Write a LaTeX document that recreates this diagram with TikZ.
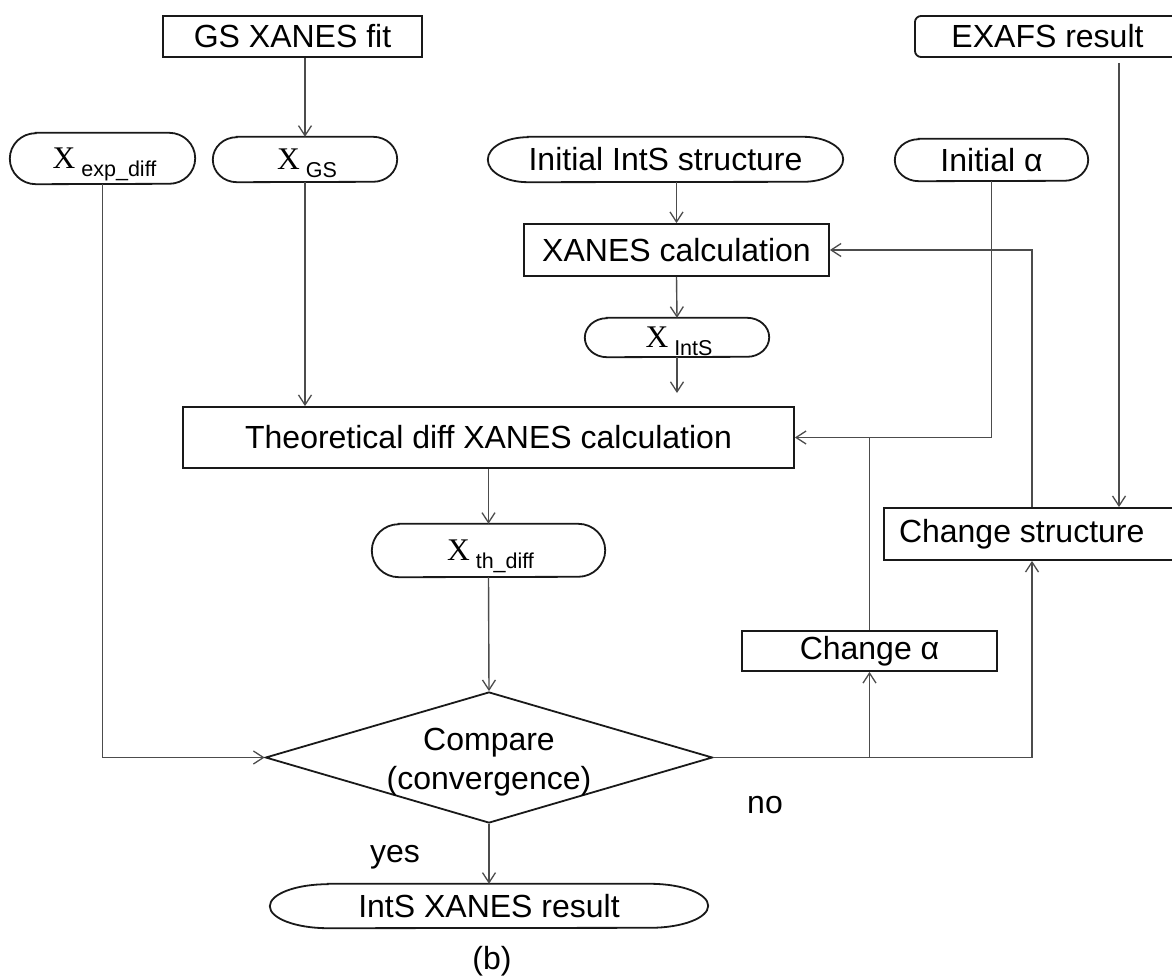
\documentclass[tikz,border=0pt]{standalone}
\usepackage{fontspec}
\setmainfont{Liberation Sans}
\newfontfamily\xserif{Liberation Serif}
\usetikzlibrary{arrows.meta,calc,shapes.geometric}

% outline of a terminal: straight top and bottom, elliptic caps
\newcommand\termoutline[3]{%
  \draw[outline] ([xshift=#2pt]#1.north west) -- ([xshift=-#2pt]#1.north east)
    arc[start angle=90,end angle=-90,x radius=#2pt,y radius=#3pt]
    -- ([xshift=#2pt]#1.south west)
    arc[start angle=270,end angle=90,x radius=#2pt,y radius=#3pt] -- cycle;}

% serif X with a sans subscript; the fixed box height/depth sets where the baseline sits
\newcommand\Xsub[1]{\raisebox{0pt}[20pt][0pt]{\hspace{4pt}{\xserif\fontsize{31.5}{32}\selectfont X}\kern6pt\raisebox{-8pt}{\fontsize{21.5}{23}\selectfont #1}}}

\begin{document}
\begin{tikzpicture}[x=1pt,y=-1pt,
  every node/.style={font=\fontsize{32}{39}\selectfont, text=black},
  box/.style={draw=black!90, line width=1.8pt, rectangle, inner sep=0pt},
  term/.style={rectangle, inner sep=0pt},
  outline/.style={draw=black!90, line width=1.8pt},
  conn/.style={draw=black!70, line width=1.4pt},
  arr/.style={conn, -{Straight Barb[length=10pt,width=13pt,line width=1.3pt]}},
  lbl/.style={inner sep=0pt}
]
\useasboundingbox (0,0) rectangle (1172,976);

% process boxes
\node[box, minimum width=259pt, minimum height=41pt] (gsfit) at (292.5,36.5) {GS XANES fit};
\node[box, rounded corners=6pt, minimum width=265pt, minimum height=41pt] (exafs) at (1047.5,36.5) {EXAFS result};
\node[box, minimum width=305pt, minimum height=52pt] (xcalc) at (676.5,250) {XANES calculation};
\node[box, minimum width=611pt, minimum height=61pt] (theo) at (488.5,437.5) {Theoretical diff XANES calculation};
\node[box, minimum width=296pt, minimum height=52pt] (chstr) at (1032,534) {\makebox[296pt][l]{\hspace{15pt}Change structure}};
\node[box, minimum width=255pt, minimum height=40pt] (cha) at (869.5,651) {Change α};

% terminals
\node[term, minimum width=185pt, minimum height=51pt] (xexp) at (102.5,158.5) {\Xsub{exp\_diff}};
\termoutline{xexp}{26}{25.5}
\node[term, minimum width=184pt, minimum height=45pt] (xgs) at (305,159.5) {\Xsub{GS}};
\termoutline{xgs}{24}{22.5}
\node[term, minimum width=355pt, minimum height=45pt] (inits) at (665.5,159.5) {Initial IntS structure};
\termoutline{inits}{40}{22.5}
\node[term, minimum width=193pt, minimum height=42pt] (inita) at (991.5,160) {Initial α};
\termoutline{inita}{24}{21}
\node[term, minimum width=184pt, minimum height=39pt] (xints) at (677,337.5) {\Xsub{IntS}};
\termoutline{xints}{22}{19.5}
\node[term, minimum width=233pt, minimum height=53pt] (xth) at (488.5,550.5) {\Xsub{th\_diff}};
\termoutline{xth}{27}{26.5}
\node[term, minimum width=438pt, minimum height=44pt] (result) at (489,906) {IntS XANES result};
\termoutline{result}{58}{22}

% decision
\node[diamond, draw=black!90, line width=1.8pt, inner sep=0pt,
      minimum width=447pt, minimum height=131pt] (cmp) at (489,757.5) {};
\node[lbl, align=center] (cmptext) at (489,762) {Compare\\(convergence)};

% branch labels and caption
\node[lbl] (yes) at (395,857) {yes};
\node[lbl] (no) at (765,805) {no};
\node[lbl] (cap) at (492,961) {(b)};

% free end of the short arrow under X_IntS
\coordinate (gapend) at (677,393);
\coordinate (exline) at (1119,0);

% connectors
\draw[arr] (gsfit.south -| xgs.north) -- (xgs.north);
\draw[arr] (xgs.south) -- (xgs.south |- theo.north);
\draw[arr] (xexp.south) |- (cmp.west);
\draw[arr] (xcalc.north |- inits.south) -- (xcalc.north);
\draw[arr] (xcalc.south) -- (xints.north);
\draw[arr] (xints.south) -- (gapend);
\draw[arr] (theo.south -| xth.north) -- (xth.north);
\draw[arr] (xth.south) -- (cmp.north);
\draw[arr] (cmp.south) -- (result.north);
\draw[arr] (cmp.east) -| (chstr.south);
\draw[arr] (cha.south |- cmp.east) -- (cha.south);
\draw[conn] (cha.north) -- (cha.north |- theo.east);
\draw[arr] (inita.south) |- (theo.east);
\draw[arr] (chstr.north) |- (xcalc.east);
\draw[arr] ([yshift=-5pt]exafs.south -| exline) -- (chstr.north -| exline);
\end{tikzpicture}
\end{document}
